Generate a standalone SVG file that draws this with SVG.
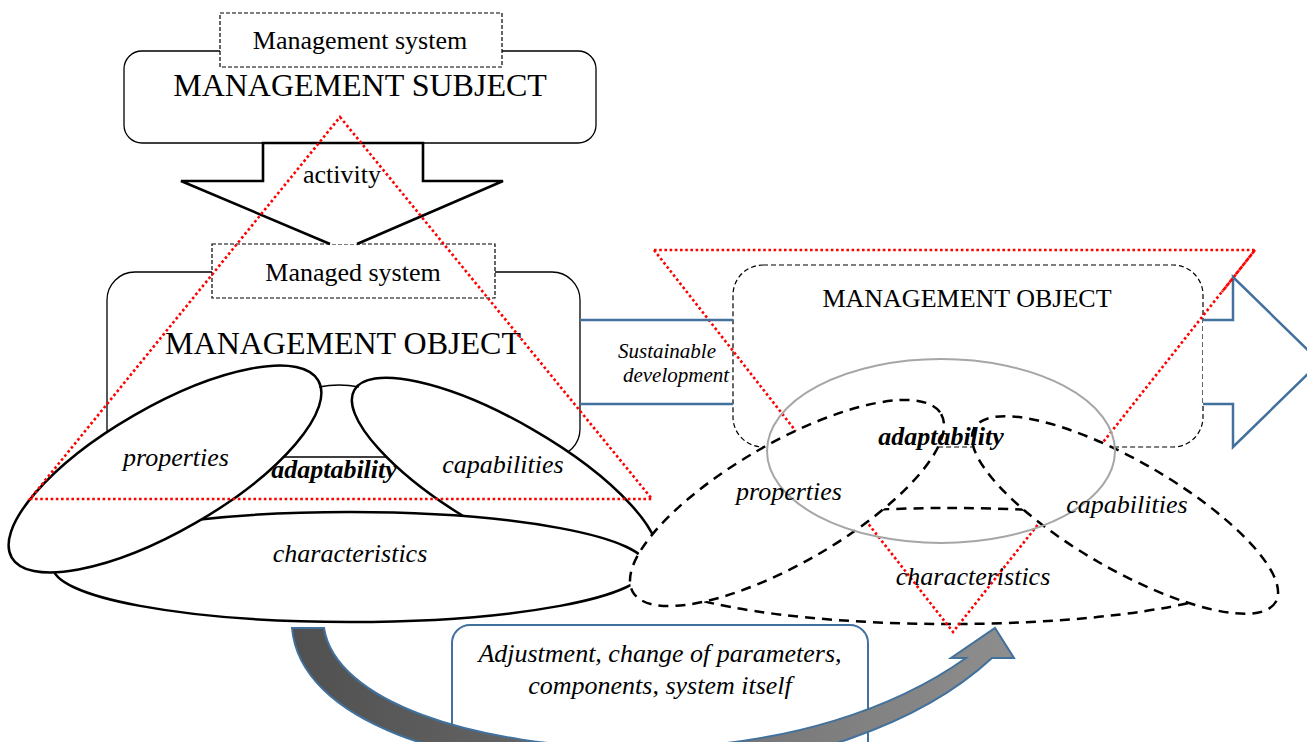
<svg xmlns="http://www.w3.org/2000/svg" width="1307" height="742" viewBox="0 0 1307 742">
<defs>
<linearGradient id="gArrow" x1="0" y1="0" x2="1" y2="0">
<stop offset="0" stop-color="#505050"/><stop offset="1" stop-color="#8e8e8e"/>
</linearGradient>
<style>
.tx{font-family:"Liberation Serif","Times New Roman",serif;fill:#000;text-anchor:middle}
.t26{font-size:26px}
.t32{font-size:32px}
.t21{font-size:21px}
.it{font-style:italic}
.bi{font-style:italic;font-weight:bold}
.box{fill:#fff;stroke:#000;stroke-width:1.3}
.dbox{fill:#fff;stroke:#000;stroke-width:1.2;stroke-dasharray:4 2}
.ell{fill:#fff;stroke:#000;stroke-width:2.5}
.dell{fill:#fff;stroke:#000;stroke-width:2.5;stroke-dasharray:10 7}
.red{fill:none;stroke:#f00;stroke-width:2.6;stroke-dasharray:2.6 2.6}
.blue{fill:#fff;stroke:#41719C;stroke-width:2.5}
</style>
</defs>
<rect width="1307" height="742" fill="#fff"/>

<g id="management-subject">
<rect class="box" x="124" y="51" width="472" height="92" rx="18"/>
<rect class="dbox" x="220" y="13" width="282" height="54"/>
<text class="tx t26" x="360" y="49">Management system</text>
<text class="tx t32" x="360" y="96">MANAGEMENT SUBJECT</text>
</g>

<g id="management-object">
<rect class="box" x="107" y="272" width="473" height="185" rx="28"/>
<ellipse class="ell" cx="0" cy="0" rx="174" ry="55" transform="translate(505 477) rotate(30)"/>
<ellipse class="ell" cx="350" cy="567" rx="297" ry="55"/>
<ellipse class="ell" cx="0" cy="0" rx="177" ry="62" transform="translate(165 469) rotate(-30)"/>
<path d="M319,387 Q339,383 359,387" fill="none" stroke="#000" stroke-width="1.5"/>
<rect class="dbox" x="212" y="244" width="283" height="54"/>
<text class="tx t26" x="353" y="281">Managed system</text>
<text class="tx t32" x="343" y="354">MANAGEMENT OBJECT</text>
<text class="tx t26 it" x="176" y="466">properties</text>
<text class="tx t26 bi" x="334" y="478">adaptability</text>
<text class="tx t26 it" x="503" y="473">capabilities</text>
<text class="tx t26 it" x="350" y="562">characteristics</text>
</g>

<g id="management-object-future">
<rect class="dbox" x="733" y="265" width="470" height="182" rx="30" style="stroke-dasharray:5 3"/>
<ellipse class="dell" cx="950" cy="566" rx="310" ry="58"/>
<polygon id="triangle-right" class="red" points="654,250 1255,250 953,632"/>
<ellipse class="dell" cx="0" cy="0" rx="174" ry="54" transform="translate(1125 515) rotate(30)"/>
<ellipse class="dell" cx="0" cy="0" rx="178" ry="60" transform="translate(787 503) rotate(-30)"/>
<ellipse cx="941" cy="451" rx="174" ry="92" fill="none" stroke="#a6a6a6" stroke-width="2"/>
<text class="tx t26" x="967" y="307">MANAGEMENT OBJECT</text>
<text class="tx t26 bi" x="941" y="445">adaptability</text>
<text class="tx t26 it" x="789" y="500">properties</text>
<text class="tx t26 it" x="1127" y="513">capabilities</text>
<text class="tx t26 it" x="973" y="585">characteristics</text>
</g>

<g id="adjustment">
<rect x="452" y="625" width="416" height="140" rx="18" fill="#fff" stroke="#41719C" stroke-width="2"/>
<text class="tx t26 it" x="660" y="662">Adjustment, change of parameters,</text>
<text class="tx t26 it" x="660" y="694">components, system itself</text>
</g>

<g id="connectors">
<g id="activity-arrow">
<path d="M263,143 L263,181 L181,181 L330,244 L357,244 L503,181 L423,181 L423,143 Z" fill="#fff"/>
<path d="M330,244 L181,181 L263,181 L263,143 L423,143 L423,181 L503,181 L357,244" fill="none" stroke="#000" stroke-width="2.6" stroke-linejoin="miter"/>
<text class="tx t26" x="342" y="183">activity</text>
</g>
<g id="sustainable-development-arrow">
<path d="M580,320 L733,320 M580,404 L733,404" class="blue" fill="none"/>
<path class="blue" d="M1203,320 L1233,320 L1233,277 L1320,362 L1233,447 L1233,404 L1203,404"/>
<text class="tx t21 it" x="667" y="358">Sustainable</text>
<text class="tx t21 it" x="676" y="382">development</text>
</g>
<g id="adjustment-arrow">
<path d="M292,628 L324,628 C335,700 470,748 640,748 C790,748 900,705 966,658 L951,658 L995,628 L1014,658 L992,658 C925,720 800,772 640,772 C450,772 300,720 292,628 Z" fill="url(#gArrow)" stroke="#41719C" stroke-width="2" stroke-linejoin="miter"/>
</g>
</g>

<g id="triangles">
<polygon id="triangle-left" class="red" points="340,117 652,499 30,499"/>
<path d="M1255,250 L1222,292" class="red"/>
</g>
</svg>
